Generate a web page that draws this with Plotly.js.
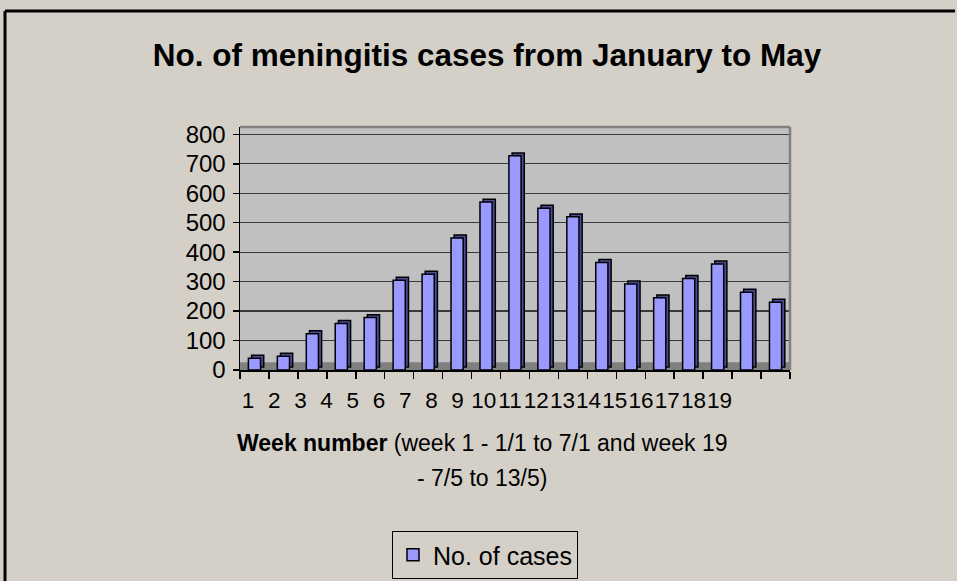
<!DOCTYPE html>
<html>
<head>
<meta charset="utf-8">
<script src="https://cdn.plot.ly/plotly-3.0.1.min.js"></script>
<style>html,body{margin:0;padding:0;background:#D4D0C8;overflow:hidden;}#chart{width:957px;height:581px;}</style>
</head>
<body>
<div id="chart"></div>
<script>
const weeks = ["1","2","3","4","5","6","7","8","9","10","11","12","13","14","15","16","17","18","19"];
const cases = [40, 47, 123, 158, 178, 305, 325, 448, 570, 727, 549, 520, 365, 292, 245, 311, 360, 264, 230];
const yTicks = [0, 100, 200, 300, 400, 500, 600, 700, 800];
const seriesName = "No. of cases";
const chartTitle = "No. of meningitis cases from January to May";
const xTitleLine1 = "<b>Week number</b> (week 1 - 1/1 to 7/1 and week 19";
const xTitleLine2 = "- 7/5 to 13/5)";

const W = 957, H = 581;
const L = 240, R = 790, T = 127, B = 370;
const px2x = p => (p - L) / (R - L);
const px2y = p => (B - p) / (B - T);
const depth = 10;

const idx = weeks.map((w, i) => i);

const side = {
  type: 'bar', x: weeks, y: cases, base: depth,
  width: 0.42, offset: -0.21 + 0.11,
  marker: {color: '#4C4C99', line: {color: '#000000', width: 1.5}},
  showlegend: false, hoverinfo: 'skip'
};
const front = {
  type: 'bar', x: weeks, y: cases, name: seriesName,
  width: 0.42, offset: -0.21,
  marker: {color: '#9999FF', line: {color: '#000000', width: 1.5}}
};
const labelsTrace = {
  type: 'scatter', x: idx, y: cases, xaxis: 'x2', mode: 'none',
  showlegend: false, hoverinfo: 'skip'
};

const scale2 = 26.2;
const r0 = -(248 - L) / scale2;
const r1 = r0 + (R - L) / scale2;

const layout = {
  width: W, height: H,
  paper_bgcolor: '#D4D0C8', plot_bgcolor: '#C0C0C0',
  margin: {l: L, r: W - R, t: T, b: H - B, pad: 0, autoexpand: false},
  font: {family: 'Arial, Liberation Sans, sans-serif', color: '#000000'},
  title: {text: '<b>' + chartTitle + '</b>', font: {size: 31.5, family: 'Arial, Liberation Sans, sans-serif', color: '#000'},
          x: 487 / W, xanchor: 'center', y: 1 - 55 / H, yanchor: 'middle', xref: 'container', yref: 'container'},
  xaxis: {
    type: 'category', range: [-0.5, 18.5], showticklabels: false, automargin: false,
    ticks: 'outside', tickson: 'boundaries', ticklen: 7, tickcolor: '#000', tickwidth: 1.5,
    showline: true, linecolor: '#000', linewidth: 1.5, showgrid: false
  },
  xaxis2: {
    overlaying: 'x', anchor: 'y', side: 'bottom', range: [r0, r1], automargin: false,
    tickmode: 'array', tickvals: idx, ticktext: weeks, tickangle: 0,
    ticks: '', showline: false, showgrid: false, zeroline: false,
    tickfont: {size: 22.5, color: '#000'}, ticklabelstandoff: 14
  },
  yaxis: {
    range: [0, 825], tickmode: 'array', tickvals: yTicks, ticktext: yTicks.map(String), automargin: false,
    ticks: 'outside', ticklen: 6, tickcolor: '#000', tickwidth: 1.5,
    showline: true, linecolor: '#000', linewidth: 1.5,
    showgrid: true, gridcolor: '#3A3A3A', gridwidth: 1.3, zeroline: false,
    tickfont: {size: 24, color: '#000'}, ticklabelstandoff: 2
  },
  shapes: [
    {type: 'rect', xref: 'paper', yref: 'y', x0: 0, x1: 1, y0: 0, y1: 26, fillcolor: '#808080', line: {width: 0}, layer: 'below'},
    {type: 'line', xref: 'paper', yref: 'paper', x0: 0, x1: 1, y0: 1, y1: 1, line: {color: '#808080', width: 2.5}},
    {type: 'line', xref: 'paper', yref: 'paper', x0: 1, x1: 1, y0: 0, y1: 1, line: {color: '#808080', width: 2.5}},
    {type: 'line', xref: 'paper', yref: 'paper', x0: px2x(5), x1: px2x(955), y0: px2y(11), y1: px2y(11),
     line: {color: '#000', width: 3}},
    {type: 'line', xref: 'paper', yref: 'paper', x0: px2x(5), x1: px2x(5), y0: px2y(11), y1: px2y(581),
     line: {color: '#000', width: 3}}
  ],
  annotations: [
    {xref: 'paper', yref: 'paper', x: px2x(482), y: px2y(443), xanchor: 'center', yanchor: 'middle',
     text: xTitleLine1, showarrow: false, font: {size: 23, color: '#000'}},
    {xref: 'paper', yref: 'paper', x: px2x(482), y: px2y(478), xanchor: 'center', yanchor: 'middle',
     text: xTitleLine2, showarrow: false, font: {size: 23, color: '#000'}}
  ],
  showlegend: true,
  legend: {x: px2x(392), y: px2y(531), xanchor: 'left', yanchor: 'top',
           bordercolor: '#000', borderwidth: 1, bgcolor: 'rgba(0,0,0,0)',
           font: {size: 25, color: '#000'}, itemwidth: 30}
};

Plotly.newPlot('chart', [side, front, labelsTrace], layout, {displayModeBar: false, staticPlot: true});
</script>
</body>
</html>
